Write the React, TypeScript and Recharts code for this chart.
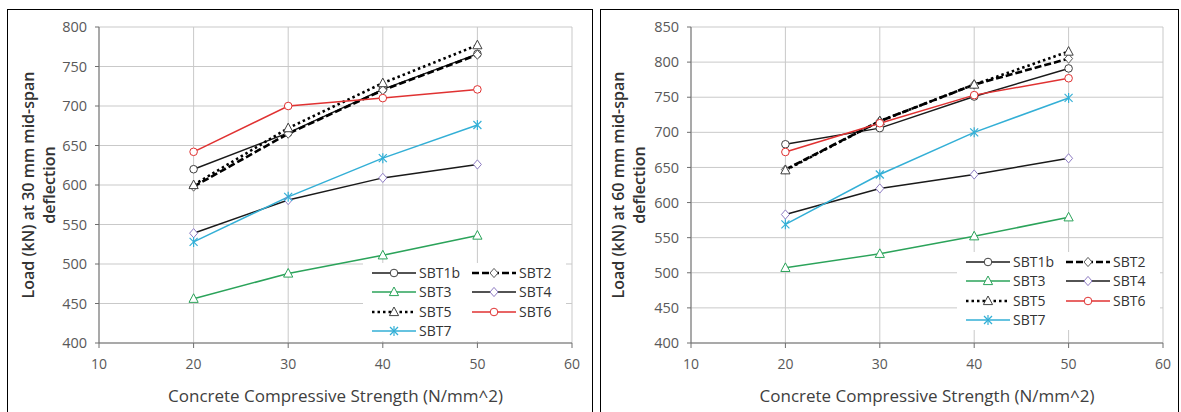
import { LineChart, Line, XAxis, YAxis, CartesianGrid } from "recharts";

// concrete strength (N/mm^2) on the x axis
const strength = [20, 30, 40, 50];
const xTicks = [10, 20, 30, 40, 50, 60];
const yTicks30 = [400, 450, 500, 550, 600, 650, 700, 750, 800];
const yTicks60 = [400, 450, 500, 550, 600, 650, 700, 750, 800, 850];
const seriesNames = ["SBT1b", "SBT2", "SBT3", "SBT4", "SBT5", "SBT6", "SBT7"];

// load (kN) at 30 mm mid-span deflection
const sbt1b30 = [620, 666, 721, 766];
const sbt2_30 = [598, 665, 720, 765];
const sbt3_30 = [456, 488, 511, 536];
const sbt4_30 = [539, 581, 609, 626];
const sbt5_30 = [600, 672, 729, 777];
const sbt6_30 = [642, 700, 710, 721];
const sbt7_30 = [528, 585, 634, 676];

// load (kN) at 60 mm mid-span deflection
const sbt1b60 = [683, 706, 751, 791];
const sbt2_60 = [647, 716, 768, 805];
const sbt3_60 = [507, 527, 552, 579];
const sbt4_60 = [583, 620, 640, 663];
const sbt5_60 = [646, 716, 768, 815];
const sbt6_60 = [672, 713, 753, 777];
const sbt7_60 = [569, 640, 700, 749];

type MarkerType = "circle" | "diamond" | "triangle" | "star";

interface SeriesStyle {
	stroke: string;
	width: number;
	dash?: string;
	marker: MarkerType;
	markerStroke: string;
}

const styles: Record<string, SeriesStyle> = {
	SBT1b: { stroke: "#1a1a1a", width: 1.5, marker: "circle", markerStroke: "#404040" },
	SBT2: { stroke: "#000", width: 2.6, dash: "7 3", marker: "diamond", markerStroke: "#595959" },
	SBT3: { stroke: "#2ba35a", width: 1.5, marker: "triangle", markerStroke: "#2ba35a" },
	SBT4: { stroke: "#1a1a1a", width: 1.5, marker: "diamond", markerStroke: "#8e7cc3" },
	SBT5: { stroke: "#000", width: 2.6, dash: "2.5 3", marker: "triangle", markerStroke: "#404040" },
	SBT6: { stroke: "#e03232", width: 1.5, marker: "circle", markerStroke: "#e03232" },
	SBT7: { stroke: "#33afd6", width: 1.5, marker: "star", markerStroke: "#33afd6" },
};

const buildRows = (values: number[][]) =>
	strength.map((x, i) => {
		const row: Record<string, number> = { strength: x };
		seriesNames.forEach((name, j) => {
			row[name] = values[j][i];
		});
		return row;
	});

const data30 = buildRows([sbt1b30, sbt2_30, sbt3_30, sbt4_30, sbt5_30, sbt6_30, sbt7_30]);
const data60 = buildRows([sbt1b60, sbt2_60, sbt3_60, sbt4_60, sbt5_60, sbt6_60, sbt7_60]);

const FONT = "'Open Sans', sans-serif";

const MarkerShape = ({ type, stroke, cx, cy }: { type: MarkerType; stroke: string; cx: number; cy: number }) => {
	if (type === "circle") {
		return <circle cx={cx} cy={cy} r={3.8} fill="#fff" stroke={stroke} strokeWidth={1} />;
	}
	if (type === "diamond") {
		return (
			<polygon
				points={`${cx},${cy - 4.6} ${cx + 4},${cy} ${cx},${cy + 4.6} ${cx - 4},${cy}`}
				fill="#fff"
				stroke={stroke}
				strokeWidth={1}
			/>
		);
	}
	if (type === "triangle") {
		return (
			<polygon
				points={`${cx},${cy - 5} ${cx + 4.6},${cy + 3.6} ${cx - 4.6},${cy + 3.6}`}
				fill="#fff"
				stroke={stroke}
				strokeWidth={1}
			/>
		);
	}
	return (
		<g stroke={stroke} strokeWidth={1.2}>
			<line x1={cx - 4} y1={cy - 4} x2={cx + 4} y2={cy + 4} />
			<line x1={cx - 4} y1={cy + 4} x2={cx + 4} y2={cy - 4} />
			<line x1={cx} y1={cy - 5} x2={cx} y2={cy + 5} />
		</g>
	);
};

// legend laid out like the Excel one: two columns, four rows
const LegendBox = ({ left, top }: { left: number; top: number }) => (
	<div
		style={{
			position: "absolute",
			left,
			top,
			width: 203,
			height: 78,
			background: "#fff",
			fontFamily: FONT,
			fontSize: 14,
			color: "#333",
		}}
	>
		{seriesNames.map((name, i) => {
			const s = styles[name];
			const col = i % 2;
			const row = Math.floor(i / 2);
			const cy = 10 + row * 19.4;
			const lineLeft = col ? 109 : 9;
			return (
				<div key={name}>
					<svg
						width={44}
						height={14}
						style={{ position: "absolute", left: lineLeft, top: cy - 7 }}
					>
						<line
							x1={0}
							y1={7}
							x2={44}
							y2={7}
							stroke={s.stroke}
							strokeWidth={s.width}
							strokeDasharray={s.dash}
						/>
						<MarkerShape type={s.marker} stroke={s.markerStroke} cx={22} cy={7} />
					</svg>
					<span
						style={{
							position: "absolute",
							left: lineLeft + 47,
							top: cy - 10,
							lineHeight: "20px",
						}}
					>
						{name}
					</span>
				</div>
			);
		})}
	</div>
);

const YTitle = ({ viewBox, lines }: any) => {
	const cy = viewBox.y + viewBox.height / 2;
	const xs = [28, 49];
	return (
		<g>
			{lines.map((t: string, i: number) => (
				<text
					key={t}
					x={xs[i]}
					y={cy}
					transform={`rotate(-90, ${xs[i]}, ${cy})`}
					textAnchor="middle"
					dominantBaseline="central"
					fontFamily={FONT}
					fontSize={16}
					fontWeight={600}
					fill="#333"
				>
					{t}
				</text>
			))}
		</g>
	);
};

const XTitle = ({ viewBox }: any) => (
	<text
		x={viewBox.x + viewBox.width / 2}
		y={viewBox.y + 52}
		textAnchor="middle"
		dominantBaseline="central"
		fontFamily={FONT}
		fontSize={17}
		fill="#404040"
	>
		Concrete Compressive Strength (N/mm^2)
	</text>
);

interface PanelProps {
	left: number;
	width: number;
	data: Record<string, number>[];
	yTicks: number[];
	yLeft: number;
	deflection: string;
	legendLeft: number;
	legendTop: number;
}

const Panel = ({ left, width, data, yTicks, yLeft, deflection, legendLeft, legendTop }: PanelProps) => (
	<div style={{ position: "absolute", left, top: 0, width, height: 412 }}>
		<LineChart
			width={width}
			height={412}
			data={data}
			margin={{ top: 27, right: 18, left: yLeft - 40, bottom: 0 }}
		>
			<CartesianGrid stroke="#c9c9c9" strokeWidth={1} />
			<XAxis
				dataKey="strength"
				type="number"
				domain={[10, 60]}
				ticks={xTicks}
				height={69}
				tickSize={5}
				tickMargin={11}
				stroke="#6e6e6e"
				tick={{ fill: "#595959", fontSize: 14, fontFamily: FONT }}
				label={<XTitle />}
			/>
			<YAxis
				type="number"
				domain={[yTicks[0], yTicks[yTicks.length - 1]]}
				ticks={yTicks}
				width={40}
				tickSize={4}
				tickMargin={8}
				stroke="#6e6e6e"
				tick={{ fill: "#595959", fontSize: 14.5, fontFamily: FONT }}
				label={<YTitle lines={[`Load (kN) at ${deflection} mm mid-span`, "deflection"]} />}
			/>
			{seriesNames.map((name) => {
				const s = styles[name];
				return (
					<Line
						key={name}
						dataKey={name}
						type="linear"
						stroke={s.stroke}
						strokeWidth={s.width}
						strokeDasharray={s.dash}
						isAnimationActive={false}
						dot={(p: any) => (
							<MarkerShape
								key={`${name}-${p.index}`}
								type={s.marker}
								stroke={s.markerStroke}
								cx={p.cx}
								cy={p.cy}
							/>
						)}
						activeDot={false}
					/>
				);
			})}
		</LineChart>
		<LegendBox left={legendLeft} top={legendTop} />
	</div>
);

export default function App() {
	return (
		<div
			style={{
				position: "absolute",
				left: 0,
				top: 0,
				width: 1181,
				height: 412,
				overflow: "hidden",
				background: "#fff",
			}}
		>
			<div
				style={{
					position: "absolute",
					left: 7,
					top: 9,
					width: 584,
					height: 420,
					border: "1px solid #000",
				}}
			/>
			<div
				style={{
					position: "absolute",
					left: 600,
					top: 9,
					width: 577,
					height: 420,
					border: "1px solid #000",
				}}
			/>
			<Panel
				left={0}
				width={590}
				data={data30}
				yTicks={yTicks30}
				yLeft={99}
				deflection="30"
				legendLeft={363}
				legendTop={263}
			/>
			<Panel
				left={590}
				width={591}
				data={data60}
				yTicks={yTicks60}
				yLeft={101}
				deflection="60"
				legendLeft={367}
				legendTop={252}
			/>
		</div>
	);
}
